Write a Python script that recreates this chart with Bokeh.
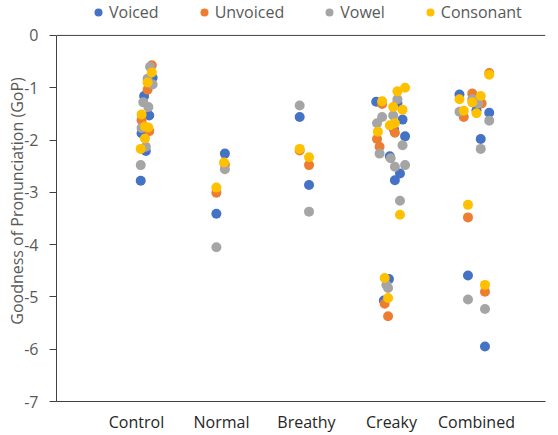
import numpy as np
from bokeh.plotting import figure
from bokeh.models import Range1d, FixedTicker, Legend, LegendItem, Span
from bokeh.embed import file_html
from bokeh.resources import INLINE

categories = ["Control", "Normal", "Breathy", "Creaky", "Combined"]
y_ticks = [0, -1, -2, -3, -4, -5, -6, -7]
y_min, y_max = -7, 0

# Voiced
voiced_cat = [1, 1, 1, 1, 1, 1, 2, 2, 3, 3, 4, 4, 4, 4, 4, 4, 4, 4, 4, 4, 5, 5, 5, 5, 5, 5]
voiced_jit = [0.19, 0.09, 0.15, 0.06, 0.11, 0.05, 0.04, -0.06, -0.08, 0.03,
              -0.18, 0.07, 0.13, 0.03, 0.16, -0.02, 0.10, 0.04, -0.03, -0.09,
              -0.20, 0.00, 0.15, 0.05, -0.10, 0.10]
voiced_gop = [-0.81, -1.16, -1.53, -1.87, -2.21, -2.78, -2.26, -3.41, -1.56, -2.86,
              -1.27, -1.29, -1.61, -1.80, -1.93, -2.31, -2.64, -2.77, -4.66, -5.07,
              -1.13, -1.43, -1.48, -1.98, -4.59, -5.95]

# Unvoiced
unvoiced_cat = [1, 1, 1, 1, 2, 2, 3, 3, 4, 4, 4, 4, 4, 4, 5, 5, 5, 5, 5, 5]
unvoiced_jit = [0.18, 0.13, 0.06, 0.15, -0.06, 0.04, -0.08, 0.03,
                -0.11, 0.04, -0.17, -0.14, -0.08, -0.04,
                0.15, -0.05, 0.06, -0.15, -0.10, 0.10]
unvoiced_gop = [-0.57, -1.04, -1.62, -1.83, -3.01, -2.47, -2.20, -2.48,
                -1.31, -1.86, -1.98, -2.13, -5.13, -5.37,
                -0.72, -1.11, -1.30, -1.56, -3.48, -4.90]

# Vowel
vowel_cat = [1, 1, 1, 1, 1, 1, 1, 1, 2, 2, 3, 3,
             4, 4, 4, 4, 4, 4, 4, 4, 4, 4, 4, 4, 5, 5, 5, 5, 5, 5, 5]
vowel_jit = [0.16, 0.13, 0.19, 0.08, 0.14, 0.06, 0.11, 0.05, 0.04, -0.06, -0.08, 0.03,
             0.07, -0.11, 0.02, -0.17, 0.13, -0.14, -0.01, 0.04, 0.16, 0.10, -0.06, -0.04,
             -0.05, 0.02, -0.20, 0.15, 0.05, -0.10, 0.10]
vowel_gop = [-0.60, -0.83, -0.94, -1.28, -1.37, -1.77, -2.13, -2.48, -2.56, -4.05, -1.34, -3.37,
             -1.22, -1.56, -1.53, -1.68, -2.10, -2.26, -2.35, -2.51, -2.48, -3.16, -4.77, -4.83,
             -1.22, -1.30, -1.46, -1.63, -2.17, -5.05, -5.23]

# Consonant
consonant_cat = [1, 1, 1, 1, 1, 1, 1, 2, 2, 3, 3,
                 4, 4, 4, 4, 4, 4, 4, 4, 4, 4, 4, 5, 5, 5, 5, 5, 5, 5, 5]
consonant_jit = [0.18, 0.13, 0.06, 0.10, 0.14, 0.10, 0.05, 0.03, -0.06, -0.08, 0.03,
                 0.16, 0.07, -0.11, 0.02, 0.13, -0.02, 0.04, -0.16, 0.10, -0.08, -0.04,
                 0.15, -0.20, 0.05, -0.05, -0.15, 0.00, -0.10, 0.10]
consonant_gop = [-0.71, -0.90, -1.51, -1.74, -1.76, -1.97, -2.17, -2.43, -2.91, -2.17, -2.33,
                 -1.00, -1.07, -1.26, -1.37, -1.42, -1.72, -1.68, -1.84, -3.43, -4.64, -5.02,
                 -0.75, -1.22, -1.16, -1.28, -1.44, -1.49, -3.24, -4.77]

series = [
    ("Voiced", voiced_cat, voiced_jit, voiced_gop, "#4472C4"),
    ("Unvoiced", unvoiced_cat, unvoiced_jit, unvoiced_gop, "#ED7D31"),
    ("Vowel", vowel_cat, vowel_jit, vowel_gop, "#A5A5A5"),
    ("Consonant", consonant_cat, consonant_jit, consonant_gop, "#FFC000"),
]

FONT = "Open Sans"
AXIS_COL = "#404040"
TXT_COL = "#595959"

# frame spans the full height above the x axis; the top part holds the legend
PX_PER_UNIT = 367 / 7
y_top = y_max + 35 / PX_PER_UNIT

p = figure(width=558, height=435, output_backend="svg", toolbar_location=None,
           x_range=Range1d(0.059, 5.812), y_range=Range1d(y_min, y_top),
           min_border_left=56, min_border_right=13, min_border_top=0, min_border_bottom=33)
p.outline_line_color = None
p.xgrid.visible = False
p.ygrid.visible = False
p.background_fill_color = "white"
p.border_fill_color = "white"

items = []
for name, cat, jit, gop, col in series:
    xs = np.array(cat, dtype=float) + np.array(jit)
    r = p.scatter(xs, gop, size=10, fill_color=col, line_color=None)
    items.append(LegendItem(label=name, renderers=[r]))

# x axis
xa = p.xaxis[0]
xa.ticker = FixedTicker(ticks=[1, 2, 3, 4, 5])
xa.major_label_overrides = {i + 1: c for i, c in enumerate(categories)}
xa.major_tick_line_color = None
xa.minor_tick_line_color = None
xa.major_tick_out = 0
xa.major_tick_in = 0
xa.major_label_standoff = 9
xa.axis_line_color = AXIS_COL
xa.major_label_text_font = FONT
xa.major_label_text_font_size = "16px"
xa.major_label_text_color = "#262626"

# y axis
ya = p.yaxis[0]
ya.ticker = FixedTicker(ticks=y_ticks)
ya.major_label_overrides = {t: str(t) for t in y_ticks}
ya.bounds = (y_min, y_max)
ya.minor_tick_line_color = None
ya.major_tick_out = 7
ya.major_tick_in = 0
ya.major_tick_line_color = AXIS_COL
ya.axis_line_color = AXIS_COL
ya.major_label_standoff = 11
ya.major_label_text_font = FONT
ya.major_label_text_font_size = "16px"
ya.major_label_text_color = TXT_COL
ya.axis_label = "Goodness of Pronunciation (GoP)"
ya.axis_label_standoff = -7
ya.axis_label_text_font = FONT
ya.axis_label_text_font_size = "16px"
ya.axis_label_text_font_style = "normal"
ya.axis_label_text_color = TXT_COL

# horizontal line at 0
p.add_layout(Span(location=y_max, dimension="width", line_color=AXIS_COL, line_width=1))

legend = Legend(items=items, orientation="horizontal", location=(32, 378),
                glyph_width=20, glyph_height=20, label_standoff=1, spacing=35,
                padding=0, margin=0, border_line_color=None, background_fill_alpha=0,
                label_text_font=FONT, label_text_font_size="16px", label_text_color=TXT_COL)
p.add_layout(legend, "center")

open("out.html", "w").write(file_html(p, INLINE))
